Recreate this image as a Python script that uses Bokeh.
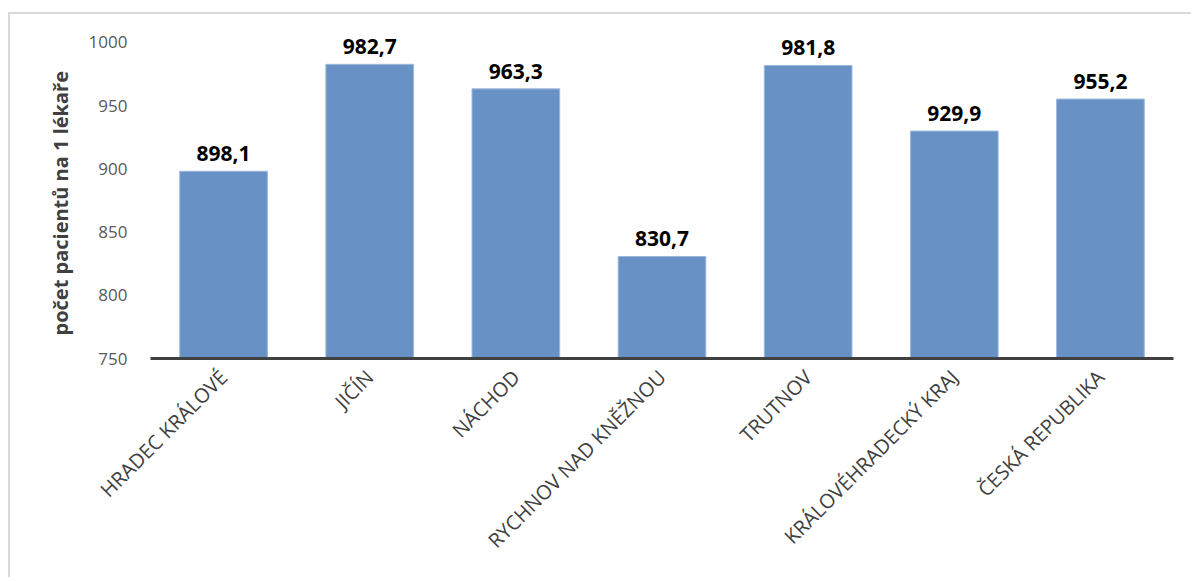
from bokeh.plotting import figure
from bokeh.models import ColumnDataSource, Range1d, Title
from bokeh.core.properties import value
from bokeh.embed import file_html
from bokeh.resources import INLINE
import math

categories = ["HRADEC KRÁLOVÉ", "JIČÍN", "NÁCHOD", "RYCHNOV NAD KNĚŽNOU",
              "TRUTNOV", "KRÁLOVÉHRADECKÝ KRAJ", "ČESKÁ REPUBLIKA"]
values = [898.1, 982.7, 963.3, 830.7, 981.8, 929.9, 955.2]
labels = ["898,1", "982,7", "963,3", "830,7", "981,8", "929,9", "955,2"]
y_ticks = [750, 800, 850, 900, 950, 1000]
y_title = "počet pacientů na 1 lékaře"

FONT = "Open Sans"

src = ColumnDataSource(dict(cat=categories, val=values, lab=labels))

p = figure(x_range=categories, y_range=Range1d(750, 1014.2),
           width=1183, height=565, output_backend="svg", toolbar_location=None,
           min_border_left=140, min_border_right=20, min_border_top=10,
           min_border_bottom=221)
p.styles = {"position": "absolute", "left": "8px", "top": "12px",
            "border-top": "2px solid #d9d9d9",
            "border-left": "2px solid #d9d9d9"}

p.vbar(x="cat", top="val", bottom=750, width=0.6, source=src,
       fill_color="#6892C6", line_color="#9DB8DE", line_width=1)

p.text(x="cat", y="val", text="lab", source=src, text_align="center",
       text_baseline="bottom", y_offset=-10, text_font=value(FONT),
       text_font_style="bold", text_font_size="21px", text_color="#000000")

p.grid.visible = False
p.outline_line_color = None
p.background_fill_color = "white"
p.border_fill_color = "white"

p.yaxis.ticker = y_ticks
p.yaxis.axis_line_color = None
p.yaxis.major_tick_line_color = None
p.yaxis.major_tick_out = 0
p.yaxis.major_tick_in = 0
p.yaxis.minor_tick_line_color = None
p.yaxis.major_label_standoff = 23
p.yaxis.major_label_text_font = FONT
p.yaxis.major_label_text_font_size = "17px"
p.yaxis.major_label_text_color = "#595959"

ytitle = Title(text=y_title, align="left", offset=23, standoff=20,
               vertical_align="top",
               text_font=FONT, text_font_size="20px", text_font_style="bold",
               text_color="#404040")
p.add_layout(ytitle, "left")

p.xaxis.axis_line_color = "#404040"
p.xaxis.axis_line_width = 3
p.xaxis.major_tick_line_color = None
p.xaxis.major_tick_out = 0
p.xaxis.major_tick_in = 0
p.xaxis.minor_tick_line_color = None
p.xaxis.major_label_orientation = math.pi / 4
p.xaxis.major_label_standoff = 15
p.xaxis.major_label_text_font = FONT
p.xaxis.major_label_text_font_size = "20px"
p.xaxis.major_label_text_color = "#404040"

open("out.html", "w").write(file_html(p, INLINE))
